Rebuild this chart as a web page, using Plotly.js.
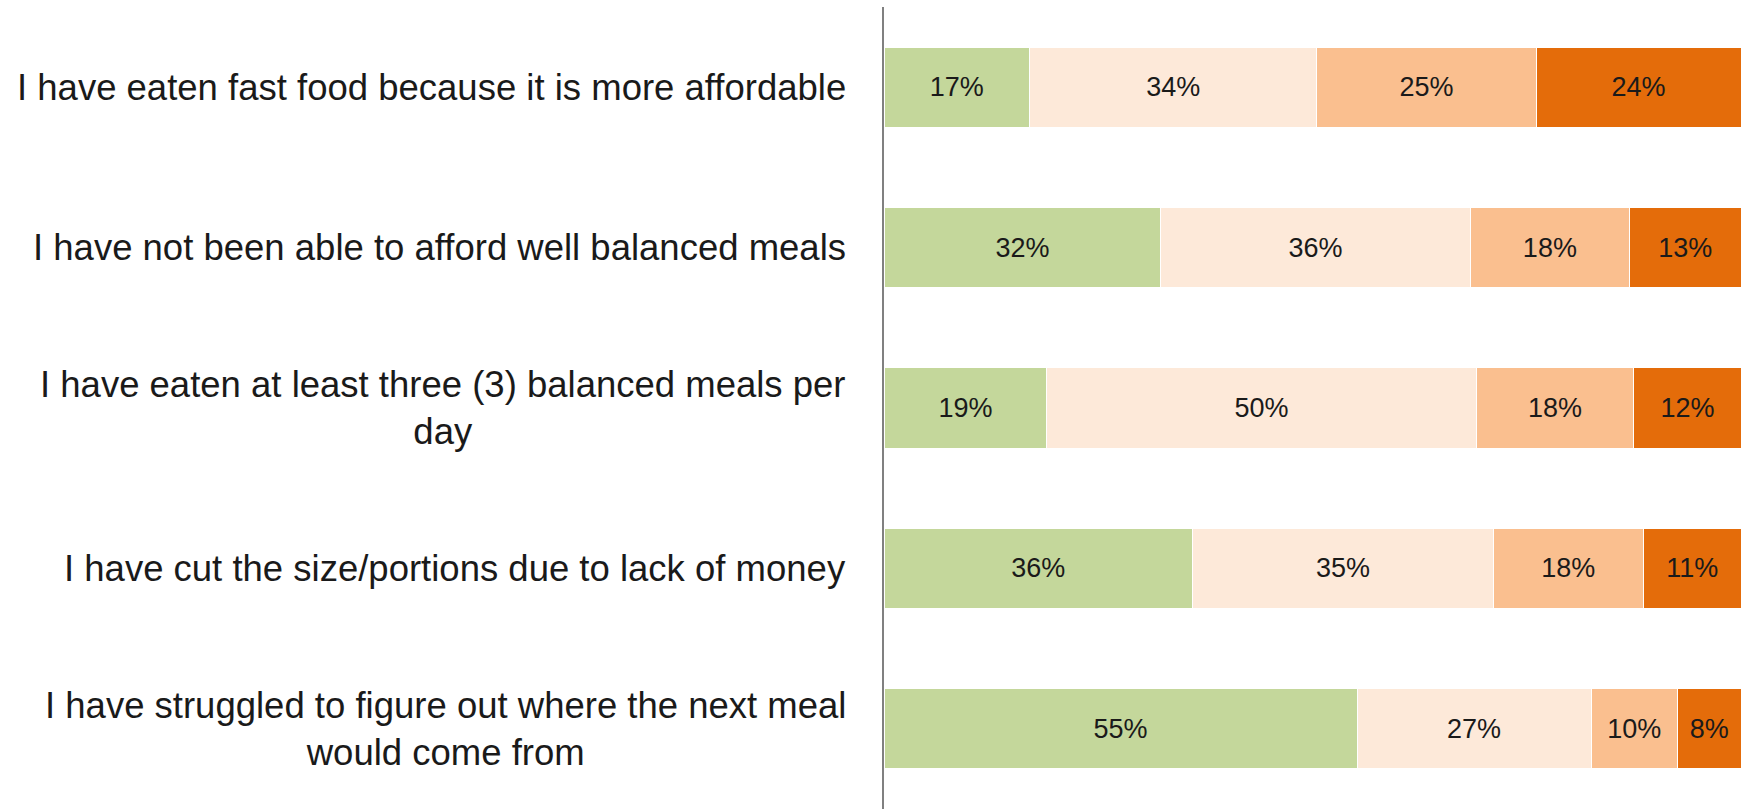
<!DOCTYPE html>
<html>
<head>
<meta charset="utf-8">
<script src="https://cdn.plot.ly/plotly-3.0.1.min.js"></script>
<style>
  html, body { margin: 0; padding: 0; background: #fff; }
  #plot { width: 1744px; height: 809px; }
</style>
</head>
<body>
<div id="plot"></div>
<script>
// Survey statements (top to bottom)
var statements = [
  "I have eaten fast food because it is more affordable",
  "I have not been able to afford well balanced meals",
  "I have eaten at least three (3) balanced meals per<br>day",
  "I have cut the size/portions due to lack of money",
  "I have struggled to figure out where the next meal<br>would come from"
];

// Segment shares and their printed labels
var seg1 = [17.0, 32.3, 19.0, 36.0, 55.2];
var seg2 = [33.5, 36.1, 50.1, 35.1, 27.3];
var seg3 = [25.6, 18.6, 18.4, 17.5, 10.1];
var seg4 = [23.9, 13.0, 12.5, 11.4, 7.4];

var lab1 = ["17%", "32%", "19%", "36%", "55%"];
var lab2 = ["34%", "36%", "50%", "35%", "27%"];
var lab3 = ["25%", "18%", "18%", "18%", "10%"];
var lab4 = ["24%", "13%", "12%", "11%", "8%"];

var colors = ["#C4D79B", "#FDE9D9", "#FABF8F", "#E46C0A"];
var font = "Liberation Sans, Arial, sans-serif";

function seg(vals, labs, color) {
  return {
    type: "bar",
    orientation: "h",
    y: statements,
    x: vals,
    text: labs,
    textposition: "inside",
    insidetextanchor: "middle",
    textangle: 0,
    textfont: { family: font, size: 27, color: "#1a1a1a" },
    marker: { color: color, line: { color: "#fff", width: 1 } },
    hoverinfo: "skip",
    showlegend: false
  };
}

var data = [
  seg(seg1, lab1, colors[0]),
  seg(seg2, lab2, colors[1]),
  seg(seg3, lab3, colors[2]),
  seg(seg4, lab4, colors[3])
];

// Category labels as annotations so wrapped lines stay centred
var annotations = statements.map(function (s) {
  return {
    xref: "paper", yref: "y",
    x: 0, y: s,
    xshift: -36,
    xanchor: "right", yanchor: "middle",
    align: "center",
    text: s,
    showarrow: false,
    font: { family: font, size: 36.5, color: "#1a1a1a" }
  };
});

var layout = {
  width: 1744,
  height: 809,
  margin: { l: 884, r: 3, t: 7, b: 0 },
  barmode: "stack",
  bargap: 0.5,
  paper_bgcolor: "#fff",
  plot_bgcolor: "#fff",
  xaxis: {
    range: [0, 100],
    visible: false,
    fixedrange: true
  },
  yaxis: {
    autorange: "reversed",
    showticklabels: false,
    ticks: "",
    showgrid: false,
    zeroline: false,
    showline: true,
    linecolor: "#808080",
    linewidth: 2
  },
  annotations: annotations
};

Plotly.newPlot("plot", data, layout, { displayModeBar: false, staticPlot: true });
</script>
</body>
</html>
